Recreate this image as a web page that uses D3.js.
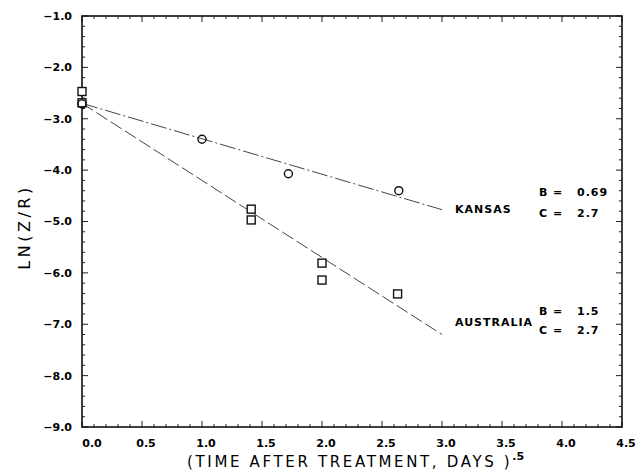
<html>
  <meta charset="utf-8" />
  <script src="https://d3js.org/d3.v7.min.js"></script>
  <body style="margin:0;background:#fff">
    <svg width="638" height="471" id="chart"></svg>
    <script>
      // data
      const kansasX = [0, 1.0, 1.72, 2.64];
      const kansasY = [-2.71, -3.40, -4.07, -4.40];
      const australiaX = [0, 0, 1.41, 1.41, 2.0, 2.0, 2.63];
      const australiaY = [-2.47, -2.69, -4.76, -4.97, -5.81, -6.14, -6.41];
      // fitted lines (end points)
      const fitX = [0, 3.0];
      const kansasFitY = [-2.7, -4.77];
      const australiaFitY = [-2.7, -7.2];
      const xTicks = [0.0, 0.5, 1.0, 1.5, 2.0, 2.5, 3.0, 3.5, 4.0, 4.5];
      const yTicks = [-1, -2, -3, -4, -5, -6, -7, -8, -9];
      const kansasLabel = ["KANSAS", "0.69", "2.7"];
      const australiaLabel = ["AUSTRALIA", "1.5", "2.7"];

      const svg = d3.select("#chart");
      const pLeft = 82, pRight = 622, pTop = 16, pBottom = 427;

      const x = d3.scaleLinear().domain([0, 4.5]).range([pLeft, pRight]);
      const y = d3.scaleLinear().domain([-9, -1]).range([pBottom, pTop]);

      const font = "DejaVu Sans, sans-serif";

      // frame ticks (inward on all four sides)
      const xMinor = d3.range(0, 4.5001, 0.1);
      const yMinor = d3.range(-9, -0.999, 0.2);
      const tickG = svg.append("g").attr("stroke", "#222").attr("stroke-width", 1);
      xMinor.forEach((v, i) => {
        const len = i % 5 === 0 ? 6 : 3;
        tickG.append("line").attr("x1", x(v)).attr("x2", x(v)).attr("y1", pBottom).attr("y2", pBottom - len);
        tickG.append("line").attr("x1", x(v)).attr("x2", x(v)).attr("y1", pTop).attr("y2", pTop + len);
      });
      yMinor.forEach((v, i) => {
        const len = i % 5 === 0 ? 6 : 3;
        tickG.append("line").attr("y1", y(v)).attr("y2", y(v)).attr("x1", pLeft).attr("x2", pLeft + len);
        tickG.append("line").attr("y1", y(v)).attr("y2", y(v)).attr("x1", pRight).attr("x2", pRight - len);
      });

      svg.append("rect")
        .attr("x", pLeft).attr("y", pTop)
        .attr("width", pRight - pLeft).attr("height", pBottom - pTop)
        .attr("fill", "none").attr("stroke", "#111").attr("stroke-width", 1.6);

      // tick labels
      svg.append("g").selectAll("text").data(yTicks).enter().append("text")
        .attr("x", 72).attr("y", (d) => y(d)).attr("dy", "0.36em")
        .attr("text-anchor", "end")
        .attr("font-family", font).attr("font-size", 11).attr("font-weight", "bold")
        .text((d) => d3.format(".1f")(d));

      svg.append("g").selectAll("text").data(xTicks).enter().append("text")
        .attr("x", (d, i) => x(d) + (i === 0 ? 10 : 4)).attr("y", 447)
        .attr("text-anchor", "middle")
        .attr("font-family", font).attr("font-size", 11).attr("font-weight", "bold")
        .text((d) => d3.format(".1f")(d));

      // axis titles
      const xt = svg.append("text")
        .attr("x", 187).attr("y", 467)
        .attr("font-family", font).attr("font-size", 15)
        .attr("letter-spacing", 2.65)
        .text("(TIME AFTER TREATMENT, DAYS )");
      xt.append("tspan").attr("dy", -7).attr("font-size", 11).attr("font-weight", "bold")
        .attr("letter-spacing", 0).text(".5");

      svg.append("text")
        .attr("transform", "translate(30, 227) rotate(-90)")
        .attr("text-anchor", "middle")
        .attr("font-family", font).attr("font-size", 16)
        .attr("letter-spacing", 3.5)
        .text("LN(Z/R)");

      // fitted lines
      const line = d3.line().x((d) => x(d[0])).y((d) => y(d[1]));
      svg.append("path")
        .attr("d", line(d3.zip(fitX, kansasFitY)))
        .attr("fill", "none").attr("stroke", "#444").attr("stroke-width", 1)
        .attr("stroke-dasharray", "16,3,2,3");
      svg.append("path")
        .attr("d", line(d3.zip(fitX, australiaFitY)))
        .attr("fill", "none").attr("stroke", "#444").attr("stroke-width", 1)
        .attr("stroke-dasharray", "13,4");

      // points
      svg.append("g").selectAll("rect").data(d3.zip(australiaX, australiaY)).enter().append("rect")
        .attr("x", (d) => x(d[0]) - 4).attr("y", (d) => y(d[1]) - 4)
        .attr("width", 8).attr("height", 8)
        .attr("fill", "#fff").attr("stroke", "#111").attr("stroke-width", 1.4);
      svg.append("g").selectAll("circle").data(d3.zip(kansasX, kansasY)).enter().append("circle")
        .attr("cx", (d) => x(d[0])).attr("cy", (d) => y(d[1])).attr("r", 4)
        .attr("fill", "none").attr("stroke", "#111").attr("stroke-width", 1.4);

      // line labels
      function label(lines, yName, yB, yC) {
        const g = svg.append("g")
          .attr("font-family", font).attr("font-size", 11).attr("font-weight", "bold")
          .attr("letter-spacing", 1);
        g.append("text").attr("x", 455).attr("y", yName).attr("dy", "0.36em").text(lines[0]);
        [["B", lines[1], yB], ["C", lines[2], yC]].forEach((r) => {
          g.append("text").attr("x", 539).attr("y", r[2]).attr("dy", "0.36em").text(r[0]);
          g.append("text").attr("x", 553).attr("y", r[2]).attr("dy", "0.36em").text("=");
          g.append("text").attr("x", 577).attr("y", r[2]).attr("dy", "0.36em").text(r[1]);
        });
      }
      label(kansasLabel, 209, 192, 213);
      label(australiaLabel, 322, 311, 330);
    </script>
  </body>
</html>
